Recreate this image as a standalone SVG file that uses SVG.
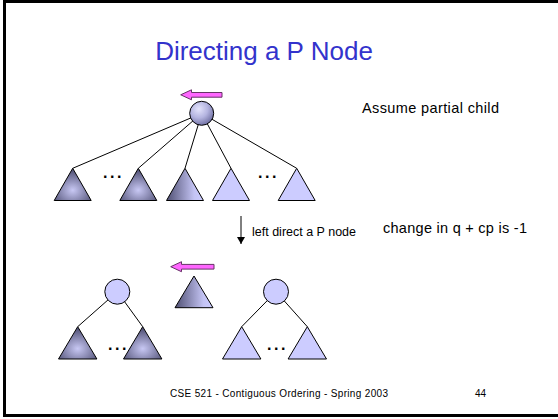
<svg xmlns="http://www.w3.org/2000/svg" width="558" height="419" viewBox="0 0 558 419">
<defs>
<radialGradient id="gRoot" cx="0.38" cy="0.32" r="0.75">
<stop offset="0" stop-color="#E4E4FC"/>
<stop offset="0.5" stop-color="#B4B4E0"/>
<stop offset="1" stop-color="#66669A"/>
</radialGradient>
<radialGradient id="gDark" cx="0.5" cy="0.68" r="0.6">
<stop offset="0" stop-color="#C8C8F4"/>
<stop offset="1" stop-color="#55557A"/>
</radialGradient>
<linearGradient id="gSide" x1="0" y1="0" x2="1" y2="0">
<stop offset="0" stop-color="#4F4F72"/>
<stop offset="0.75" stop-color="#C4C4F4"/>
<stop offset="1" stop-color="#CCCCFF"/>
</linearGradient>
<marker id="ah" markerWidth="8" markerHeight="8" refX="7" refY="4" orient="auto" markerUnits="userSpaceOnUse">
<path d="M0,0 L7,4 L0,8 Z" fill="#000"/>
</marker>
</defs>
<style>
.txt{font-family:"Liberation Sans",Arial,sans-serif;fill:#000}
.title{font-family:"Liberation Sans",Arial,sans-serif;fill:#3333CC;font-size:26px}
.foot{font-family:"Liberation Sans",Arial,sans-serif;fill:#000;font-size:10px}
.dots{font-family:"Liberation Sans",Arial,sans-serif;fill:#000;font-size:16px;font-weight:bold;letter-spacing:2.6px}
.edge{stroke:#000;stroke-width:1;fill:none}
.tri{stroke:#000;stroke-width:1}
.light{fill:#CCCCFF}
.dark{fill:url(#gDark)}
.side{fill:url(#gSide)}
.pink{fill:#FF66FF;stroke:#663366;stroke-width:1}
</style>
<rect x="4.5" y="1.5" width="560" height="414" fill="#FFFFFF" stroke="#000" stroke-width="3"/>
<text class="title" x="264" y="60" text-anchor="middle">Directing a P Node</text>

<g id="connectors">
<line class="edge" x1="201.7" y1="113.3" x2="72.7" y2="168.3"/>
<line class="edge" x1="201.7" y1="113.3" x2="138.3" y2="168.3"/>
<line class="edge" x1="201.7" y1="113.3" x2="185" y2="168.3"/>
<line class="edge" x1="201.7" y1="113.3" x2="231" y2="168.3"/>
<line class="edge" x1="201.7" y1="113.3" x2="296.7" y2="168.3"/>
<line class="edge" x1="117.3" y1="291.7" x2="77.7" y2="326.7"/>
<line class="edge" x1="117.3" y1="291.7" x2="142.7" y2="326.7"/>
<line class="edge" x1="276" y1="291.7" x2="241.7" y2="326.7"/>
<line class="edge" x1="276" y1="291.7" x2="307.3" y2="326.7"/>
<line class="edge" x1="241" y1="216" x2="241" y2="244" marker-end="url(#ah)"/>
</g>

<g id="arrow-top"><polygon class="pink" points="180.7,94.8 191.5,89.8 191.5,92.5 222,92.5 222,97.2 191.5,97.2 191.5,99.8"/></g>
<g id="arrow-bottom"><polygon class="pink" points="170.7,266.7 181.5,261.7 181.5,264.4 214,264.4 214,269.1 181.5,269.1 181.5,271.7"/></g>

<g id="root"><circle cx="201.7" cy="113.3" r="12" fill="url(#gRoot)" stroke="#000" stroke-width="1"/></g>

<g id="t1"><polygon class="tri dark" points="72.7,168.3 54.2,200.5 91.2,200.5"/></g>
<g id="dots1"><text class="dots" x="103" y="178">...</text></g>
<g id="t2"><polygon class="tri dark" points="138.3,168.3 119.8,200.5 156.8,200.5"/></g>
<g id="t3"><polygon class="tri side" points="185,168.3 166.5,200.5 203.5,200.5"/></g>
<g id="t4"><polygon class="tri light" points="231,168.3 212.5,200.5 249.5,200.5"/></g>
<g id="dots2"><text class="dots" x="258" y="178">...</text></g>
<g id="t5"><polygon class="tri light" points="296.7,168.3 278.2,200.5 315.2,200.5"/></g>

<text class="txt" x="362" y="113" font-size="14.5" textLength="137" lengthAdjust="spacing">Assume partial child</text>
<text class="txt" x="252" y="236" font-size="12.5">left direct a P node</text>
<text class="txt" x="383" y="233" font-size="14.5" textLength="144" lengthAdjust="spacing">change in q + cp is -1</text>

<g id="mid-tri"><polygon class="tri side" points="194,276 175,307.7 213,307.7"/></g>

<g id="left-root"><circle cx="117.3" cy="291.7" r="12.5" fill="#CCCCFF" stroke="#000" stroke-width="1"/></g>
<g id="lt1"><polygon class="tri dark" points="77.7,326.7 58.5,359 96.9,359"/></g>
<g id="dots3"><text class="dots" x="108" y="350">...</text></g>
<g id="lt2"><polygon class="tri dark" points="142.7,326.7 123.5,359 161.9,359"/></g>

<g id="right-root"><circle cx="276" cy="291.7" r="12.5" fill="#CCCCFF" stroke="#000" stroke-width="1"/></g>
<g id="rt1"><polygon class="tri light" points="241.7,326.7 222.5,359 260.9,359"/></g>
<g id="dots4"><text class="dots" x="267" y="350">...</text></g>
<g id="rt2"><polygon class="tri light" points="307.3,326.7 288.1,359 326.5,359"/></g>

<text class="foot" x="170" y="396.5" textLength="218" lengthAdjust="spacing">CSE 521 - Contiguous Ordering - Spring 2003</text>
<text class="foot" x="475" y="396.5">44</text>
</svg>
